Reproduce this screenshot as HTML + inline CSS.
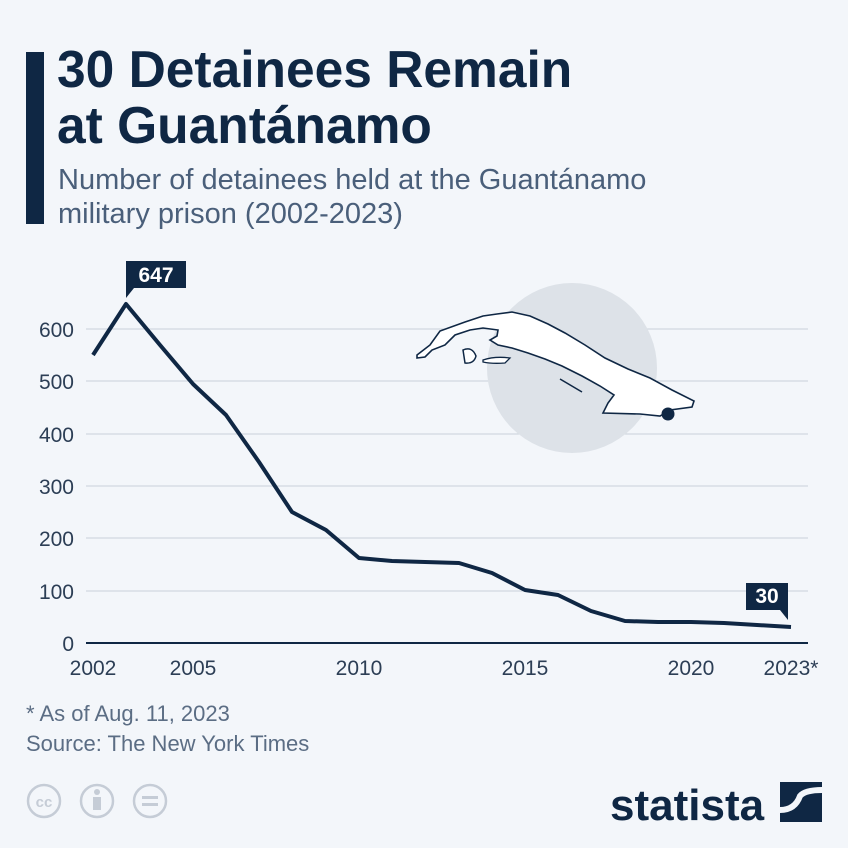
<!DOCTYPE html>
<html><head><meta charset="utf-8"><style>
body{margin:0;width:848px;height:848px;background:#f3f6fa;font-family:"Liberation Sans",sans-serif;position:relative;overflow:hidden}
.bar{position:absolute;left:26px;top:52px;width:18px;height:172px;background:#0f2744}
.t{position:absolute;left:57px;top:41px;font-size:51.5px;font-weight:bold;color:#0f2744;line-height:56px}
.s{position:absolute;left:58px;top:163px;font-size:29px;color:#4a5f7a;line-height:34px}
.f{position:absolute;left:26px;font-size:22px;color:#5b6d84}
</style></head><body>
<div class="bar"></div>
<div class="t">30 Detainees Remain<br>at Guantánamo</div>
<div class="s">Number of detainees held at the Guantánamo<br>military prison (2002-2023)</div>
<svg width="848" height="848" style="position:absolute;left:0;top:0" font-family="Liberation Sans, sans-serif">
<g stroke="#c9d0d9" stroke-width="1">
<line x1="86" x2="808" y1="329" y2="329"/><line x1="86" x2="808" y1="381" y2="381"/><line x1="86" x2="808" y1="434" y2="434"/><line x1="86" x2="808" y1="486" y2="486"/><line x1="86" x2="808" y1="538" y2="538"/><line x1="86" x2="808" y1="591" y2="591"/>
</g>
<line x1="86" x2="808" y1="643" y2="643" stroke="#0f2744" stroke-width="2"/>
<g fill="#2c3e55" font-size="21" text-anchor="end">
<text x="74" y="337">600</text><text x="74" y="389">500</text><text x="74" y="442">400</text><text x="74" y="494">300</text><text x="74" y="546">200</text><text x="74" y="599">100</text><text x="74" y="651">0</text>
</g>
<g fill="#2c3e55" font-size="21" text-anchor="middle">
<text x="93" y="675">2002</text><text x="193" y="675">2005</text><text x="359" y="675">2010</text><text x="525" y="675">2015</text><text x="691" y="675">2020</text><text x="791" y="675">2023*</text>
</g>
<circle cx="572" cy="368" r="85" fill="#dde2e8"/>
<path d="M417,355 L430,345 L440,331 L465,322 L483,316 L497,314 L512,312 L530,316 L548,324 L565,333 L585,345 L605,358 L628,369 L650,378 L672,390 L694,401 L692,407 L670,410 L660,416 L640,414 L603,413 L608,403 L614,395 L600,386 L582,376 L562,366 L545,359 L528,353 L512,348 L498,345 L490,340 L497,336 L498,330 L483,328 L470,330 L455,335 L445,345 L432,350 L425,357 L417,358 Z" fill="#fff" stroke="#0f2744" stroke-width="1.6"/>
<path d="M463,350 Q472,346 476,356 Q474,364 465,363 Z" fill="#fff" stroke="#0f2744" stroke-width="1.5"/>
<path d="M483,360 Q495,356 510,358 L505,363 Q492,364 483,362 Z" fill="#fff" stroke="#0f2744" stroke-width="1.3"/>
<path d="M560,379 L582,392" stroke="#0f2744" stroke-width="1.5"/>
<circle cx="668" cy="414" r="6.5" fill="#0f2744"/>
<polyline fill="none" stroke="#0f2744" stroke-width="4" stroke-linejoin="round" points="93,355 126,304 160,345 193,384 226,415 259,462 292,512 326,530 359,558 392,561 425,562 459,563 492,573 525,590 558,595 591,611 625,621 658,622 691,622 724,623 757,625 791,627"/>
<path d="M126,261 h60 v27 h-52 l-8,10 z" fill="#0f2744"/>
<text x="156" y="282" fill="#fff" font-size="21" font-weight="bold" text-anchor="middle">647</text>
<path d="M746,583 h42 v37 l-8,-10 h-34 z" fill="#0f2744"/>
<text x="767" y="603" fill="#fff" font-size="21" font-weight="bold" text-anchor="middle">30</text>
<g fill="none" stroke="#c5ccd6" stroke-width="2.5">
<circle cx="44" cy="801" r="16"/><circle cx="97" cy="801" r="16"/><circle cx="150" cy="801" r="16"/>
</g>
<text x="44" y="807" font-size="15" font-weight="bold" fill="#c5ccd6" text-anchor="middle">cc</text>
<circle cx="97" cy="792" r="3" fill="#c5ccd6"/><rect x="93" y="797" width="8" height="13" fill="#c5ccd6"/>
<rect x="142" y="796" width="16" height="3" fill="#c5ccd6"/><rect x="142" y="803" width="16" height="3" fill="#c5ccd6"/>
<text x="610" y="820" font-size="44" font-weight="bold" fill="#0f2744">statista</text>
<rect x="780" y="782" width="42" height="40" fill="#0f2744"/>
<path d="M780,810 Q795,810 800,796 Q805,790 822,790" stroke="#f3f6fa" stroke-width="6" fill="none"/>
</svg>
<div class="f" style="top:701px">* As of Aug. 11, 2023</div>
<div class="f" style="top:731px">Source: The New York Times</div>
</body></html>
